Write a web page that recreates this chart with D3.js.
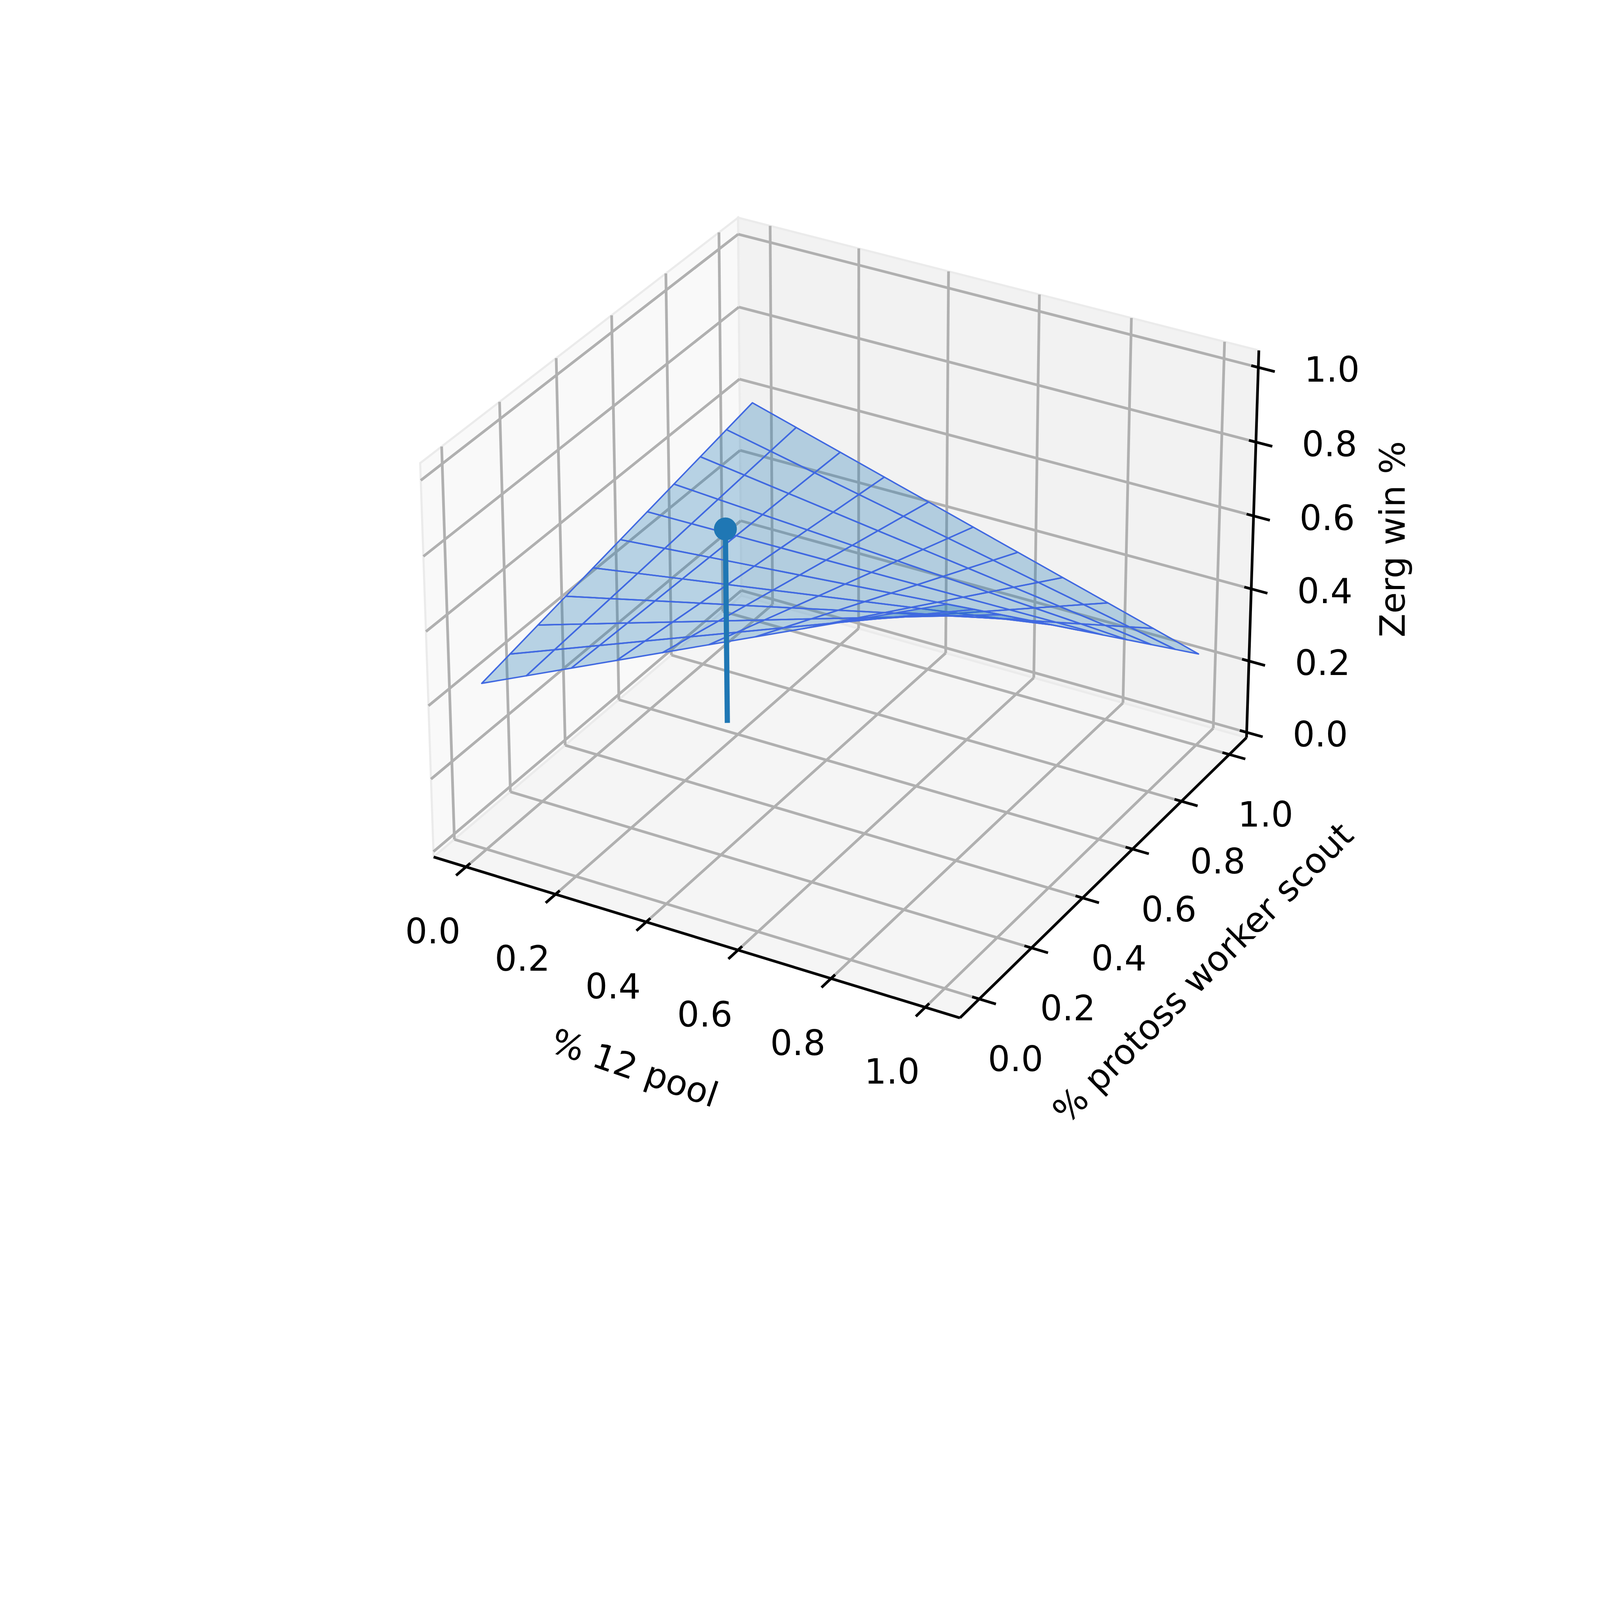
<!DOCTYPE html>
<html lang="en">
<head>
<meta charset="UTF-8">
<title>Zerg win %</title>
<script src="https://d3js.org/d3.v7.min.js"></script>
<style>
  html, body { margin: 0; padding: 0; background: #fff; overflow: hidden; }
  svg { display: block; width: 100vw; height: 75vw; }
  text { font-family: "DejaVu Sans", sans-serif; fill: #000; }
</style>
</head>
<body>
<svg id="chart" viewBox="0 0 7680 5760" preserveAspectRatio="xMidYMid meet"></svg>
<script>
// --- data ---
const gridSteps = [0, 0.1, 0.2, 0.3, 0.4, 0.5, 0.6, 0.7, 0.8, 0.9, 1.0];
// Zerg win % at the corners: [12 pool share][scout share]
const cornerWin = [[0.44, 0.60],   // 12 pool = 0 : scout 0, scout 1
                   [1.00, 0.24]];  // 12 pool = 1 : scout 0, scout 1
const equilibrium = { x: 0.17, y: 0.61, z: 0.54 };
const ticks = [0, 0.2, 0.4, 0.6, 0.8, 1.0];
const tickLabels = ["0.0", "0.2", "0.4", "0.6", "0.8", "1.0"];

const K = 7680 / 1543;
const svg = d3.select("#chart");

// axis limits (with matplotlib's padding)
const xlim = [-0.073, 1.073], ylim = [-0.073, 1.073], zlim = [-0.015, 1.045];
const asp = [4, 4, 3].map(v => v * 4 / 3 / Math.sqrt(41));
const sx3 = d3.scaleLinear().domain(xlim).range([0, asp[0]]);
const sy3 = d3.scaleLinear().domain(ylim).range([0, asp[1]]);
const sz3 = d3.scaleLinear().domain(zlim).range([0, asp[2]]);

// camera: elev 30, azim -60, dist 10
const el = 30 * Math.PI / 180, az = -60 * Math.PI / 180, dist = 10;
const R = asp.map(v => v / 2);
const E = [R[0] + Math.cos(az) * Math.cos(el) * dist,
           R[1] + Math.sin(az) * Math.cos(el) * dist,
           R[2] + Math.sin(el) * dist];
const sub = (a, b) => a.map((v, i) => v - b[i]);
const dot = (a, b) => a[0] * b[0] + a[1] * b[1] + a[2] * b[2];
const cross = (a, b) => [a[1] * b[2] - a[2] * b[1], a[2] * b[0] - a[0] * b[2], a[0] * b[1] - a[1] * b[0]];
const norm = a => { const l = Math.sqrt(dot(a, a)); return a.map(v => v / l); };
const n = norm(sub(E, R)), u = norm(cross([0, 0, 1], n)), v = cross(n, u);

function raw(x, y, z) {
  const d = sub([sx3(x), sy3(y), sz3(z)], E);
  const w = -dot(n, d);
  return [dot(u, d) / w, dot(v, d) / w, w];
}

// fit a 2D affine map from the projection to the box corners seen in the reference
const calib = [
  [[xlim[0], ylim[0], zlim[0]], [420, 822]],
  [[xlim[1], ylim[0], zlim[0]], [930, 990]],
  [[xlim[1], ylim[1], zlim[0]], [1195, 705]],
  [[xlim[0], ylim[1], zlim[1]], [715, 215]],
  [[xlim[0], ylim[0], zlim[1]], [400, 445]],
  [[xlim[1], ylim[1], zlim[1]], [1217, 337]]
];
function solve3(A, b) {
  const det = m => m[0][0] * (m[1][1] * m[2][2] - m[1][2] * m[2][1])
                 - m[0][1] * (m[1][0] * m[2][2] - m[1][2] * m[2][0])
                 + m[0][2] * (m[1][0] * m[2][1] - m[1][1] * m[2][0]);
  const D = det(A);
  return [0, 1, 2].map(c => det(A.map((row, r) => row.map((val, k) => k === c ? b[r] : val))) / D);
}
function fit(k) {
  const rows = calib.map(c => { const r = raw(...c[0]); return [r[0], r[1], 1]; });
  const qs = calib.map(c => c[1][k] * K);
  const A = [0, 1, 2].map(i => [0, 1, 2].map(j => d3.sum(rows, r => r[i] * r[j])));
  const b = [0, 1, 2].map(i => d3.sum(rows, (r, m) => r[i] * qs[m]));
  return solve3(A, b);
}
const fx = fit(0), fy = fit(1);
function P(x, y, z) {
  const r = raw(x, y, z);
  return [fx[0] * r[0] + fx[1] * r[1] + fx[2], fy[0] * r[0] + fy[1] * r[1] + fy[2], r[2]];
}
const line = pts => "M" + pts.map(p => p.slice(0, 2).join(",")).join("L");
const seg = (a, b) => line([P(...a), P(...b)]);

// --- panes ---
const [x0, x1] = xlim, [y0, y1] = ylim, [z0, z1] = zlim;
const panes = [
  { pts: [[x0, y0, z0], [x0, y1, z0], [x0, y1, z1], [x0, y0, z1]], fill: "#f9f9f9" },
  { pts: [[x0, y1, z0], [x1, y1, z0], [x1, y1, z1], [x0, y1, z1]], fill: "#f2f2f2" },
  { pts: [[x0, y0, z0], [x1, y0, z0], [x1, y1, z0], [x0, y1, z0]], fill: "#f5f5f5" }
];
svg.append("g").selectAll("path").data(panes).join("path")
  .attr("d", d => line(d.pts.map(p => P(...p))) + "Z")
  .attr("fill", d => d.fill).attr("stroke", "#ebebeb").attr("stroke-width", 10);

// --- grid ---
const grid = [];
ticks.forEach(t => {
  grid.push([[t, y0, z0], [t, y1, z0]], [[t, y1, z0], [t, y1, z1]]);   // x ticks
  grid.push([[x0, t, z0], [x1, t, z0]], [[x0, t, z0], [x0, t, z1]]);   // y ticks
  grid.push([[x0, y0, t], [x0, y1, t]], [[x0, y1, t], [x1, y1, t]]);   // z ticks
});
svg.append("g").selectAll("path").data(grid).join("path")
  .attr("d", d => seg(d[0], d[1]))
  .attr("stroke", "#b0b0b0").attr("stroke-width", 13).attr("fill", "none");

// --- axes ---
const axG = svg.append("g").attr("stroke", "#000").attr("fill", "none");
axG.append("path").attr("d", seg([x0, y0, z0], [x1, y0, z0])).attr("stroke-width", 13);
axG.append("path").attr("d", seg([x1, y0, z0], [x1, y1, z0])).attr("stroke-width", 13);
axG.append("path").attr("d", seg([x1, y1, z0], [x1, y1, z1])).attr("stroke-width", 13);
ticks.forEach(t => {
  axG.append("path").attr("d", seg([t, y0 + 0.015, z0], [t, y0 - 0.035, z0])).attr("stroke-width", 13);
  axG.append("path").attr("d", seg([x1 - 0.015, t, z0], [x1 + 0.035, t, z0])).attr("stroke-width", 13);
  axG.append("path").attr("d", seg([x1 - 0.015, y1, t], [x1 + 0.035, y1, t])).attr("stroke-width", 13);
});
const fs = 167;
const labG = svg.append("g").attr("font-size", fs).attr("text-anchor", "middle").attr("dominant-baseline", "central");
ticks.forEach((t, i) => {
  let p = P(t, y0, z0);
  labG.append("text").attr("x", p[0] - 32 * K).attr("y", p[1] + 62 * K).text(tickLabels[i]);
  p = P(x1, t, z0);
  labG.append("text").attr("x", p[0] + 35 * K).attr("y", p[1] + 58 * K).text(tickLabels[i]);
  p = P(x1, y1, t);
  labG.append("text").attr("x", p[0] + 71 * K).attr("y", p[1] + 2 * K).text(tickLabels[i]);
});
const axisLabels = [
  { t: "% 12 pool", x: 612, y: 1030, r: 19 },
  { t: "% protoss worker scout", x: 1160, y: 938, r: -45 },
  { t: "Zerg win %", x: 1343, y: 520, r: -90 }
];
labG.selectAll("text.al").data(axisLabels).join("text").attr("class", "al")
  .attr("transform", d => `translate(${d.x * K},${d.y * K}) rotate(${d.r})`).text(d => d.t);

// --- surface ---
const win = (x, y) => cornerWin[0][0] * (1 - x) * (1 - y) + cornerWin[0][1] * (1 - x) * y
                    + cornerWin[1][0] * x * (1 - y) + cornerWin[1][1] * x * y;
const quads = [];
for (let i = 0; i < gridSteps.length - 1; i++)
  for (let j = 0; j < gridSteps.length - 1; j++) {
    const a = gridSteps[i], b = gridSteps[i + 1], c = gridSteps[j], d = gridSteps[j + 1];
    const pts = [[a, c], [b, c], [b, d], [a, d]].map(q => P(q[0], q[1], win(q[0], q[1])));
    quads.push({ pts, depth: d3.mean(pts, p => p[2]) });
  }
quads.sort((p, q) => q.depth - p.depth);
svg.append("g").selectAll("path").data(quads).join("path")
  .attr("d", d => line(d.pts) + "Z")
  .attr("fill", "#1f77b4").attr("fill-opacity", 0.3)
  .attr("stroke", "#4169e1").attr("stroke-width", 7).attr("stroke-linejoin", "round");

// --- equilibrium stem and point ---
svg.append("path").attr("d", seg([equilibrium.x, equilibrium.y, 0], [equilibrium.x, equilibrium.y, equilibrium.z]))
  .attr("stroke", "#1f77b4").attr("stroke-width", 25).attr("fill", "none");
const ep = P(equilibrium.x, equilibrium.y, equilibrium.z);
svg.append("circle").attr("cx", ep[0]).attr("cy", ep[1]).attr("r", 55).attr("fill", "#1f77b4");
</script>
</body>
</html>
